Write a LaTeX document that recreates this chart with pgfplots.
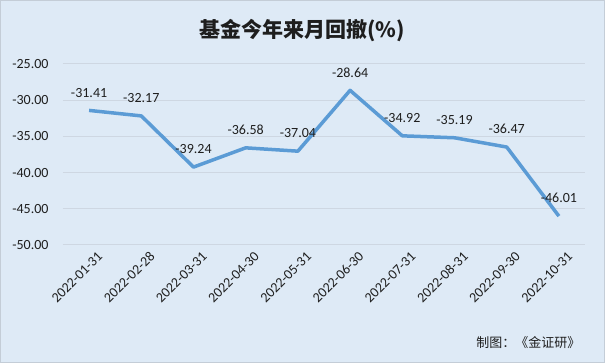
\documentclass[border=0pt]{standalone}
\usepackage{fontspec}
\setmainfont{Carlito}
\newfontfamily\cjk{Noto Sans CJK SC}
\usepackage{pgfplots}
\pgfplotsset{compat=1.18}
\usepackage{pgfplotstable}
\definecolor{bg}{RGB}{222,234,246}
\definecolor{gridc}{RGB}{206,215,226}
\definecolor{linec}{RGB}{91,155,213}
\definecolor{txt}{RGB}{30,30,30}
\definecolor{border}{RGB}{196,205,215}
\pgfplotstableread{
x y lab
0 -31.41 -31.41
1 -32.17 -32.17
2 -39.24 -39.24
3 -36.58 -36.58
4 -37.04 -37.04
5 -28.64 -28.64
6 -34.92 -34.92
7 -35.19 -35.19
8 -36.47 -36.47
9 -46.01 -46.01
}\drawdown
\begin{document}
\begin{tikzpicture}
\fill[bg] (0,0) rectangle (605bp,363bp);
\useasboundingbox (0,0) rectangle (605bp,363bp);
\draw[border, line width=1bp] (0.5bp,0.5bp) rectangle (604.5bp,362.5bp);
\node[font=\cjk\bfseries\fontsize{21bp}{24bp}\selectfont, text=txt] at (302bp,332bp) {基金今年来月回撤(\%)};
\node[font=\cjk\fontsize{13bp}{15bp}\selectfont, text=txt, anchor=east] at (584bp,20bp) {制图：《金证研》};
\begin{axis}[
  at={(63bp,118bp)}, anchor=south west,
  scale only axis, width=522bp, height=181bp,
  xmin=-0.5, xmax=9.5, ymin=-50, ymax=-25,
  clip=false,
  axis line style={draw=none},
  major tick length=0pt,
  ymajorgrids, grid style={gridc, line width=1bp},
  ytick={-50,-45,-40,-35,-30,-25},
  yticklabels={-50.00,-45.00,-40.00,-35.00,-30.00,-25.00},
  yticklabel style={font=\fontsize{14bp}{16bp}\selectfont, text=txt, xshift=-11bp},
  xtick={0,...,9},
  xticklabels={2022-01-31,2022-02-28,2022-03-31,2022-04-30,2022-05-31,2022-06-30,2022-07-31,2022-08-31,2022-09-30,2022-10-31},
  xticklabel style={font=\fontsize{14bp}{16bp}\selectfont, text=txt, rotate=45, anchor=east, yshift=-14bp, xshift=5bp},
  nodes near coords,
  point meta=explicit symbolic,
  nodes near coords style={font=\fontsize{14bp}{16bp}\selectfont, text=txt, anchor=south, yshift=8bp},
]
\addplot[linec, line width=3.5bp, line join=round, no markers] table[x=x, y=y, meta=lab] {\drawdown};
\end{axis}
\end{tikzpicture}
\end{document}
